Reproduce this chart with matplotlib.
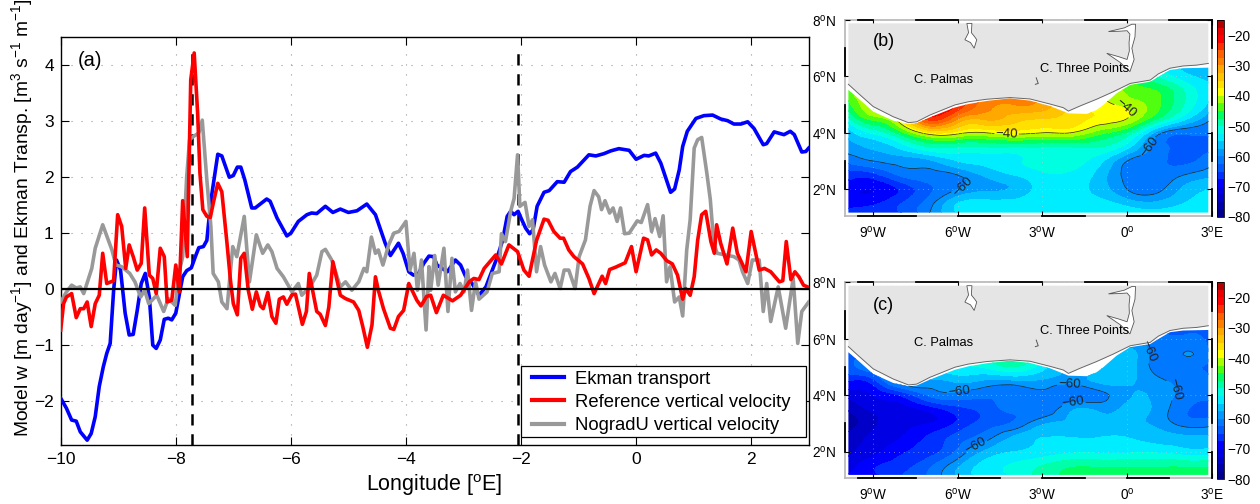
import numpy as np
import matplotlib
matplotlib.use("Agg")
import matplotlib.pyplot as plt
from matplotlib.path import Path
from matplotlib.patches import Polygon, PathPatch, Rectangle
from matplotlib.tri import Triangulation, UniformTriRefiner

plt.rcParams['font.family'] = ['Liberation Sans', 'DejaVu Sans']
plt.rcParams['mathtext.fontset'] = 'custom'
plt.rcParams['mathtext.rm'] = 'Liberation Sans'
plt.rcParams['mathtext.default'] = 'regular'

# ---------- data, panel (a) ----------
ekman_lon = [-10,-9.9,-9.81,-9.73,-9.66,-9.54,-9.47,-9.4,-9.33,-9.26,-9.2,-9.14,-9.08,-9.03,-8.96,-8.88,-8.81,-8.74,-8.67,-8.6,-8.53,-8.46,-8.4,-8.34,-8.27,-8.2,-8.13,-8.07,-8.0,-7.94,-7.88,-7.81,-7.73,-7.66,-7.6,-7.52,-7.46,-7.43,-7.38,-7.27,-7.2,-7.07,-7.0,-6.93,-6.87,-6.8,-6.68,-6.62,-6.42,-6.36,-6.24,-6.07,-6.0,-5.87,-5.72,-5.64,-5.55,-5.4,-5.27,-5.14,-5.0,-4.85,-4.68,-4.53,-4.36,-4.27,-4.13,-4.05,-3.95,-3.87,-3.78,-3.69,-3.6,-3.52,-3.46,-3.28,-3.14,-3.05,-2.96,-2.85,-2.73,-2.61,-2.5,-2.41,-2.32,-2.24,-2.18,-2.12,-2.05,-2.0,-1.92,-1.85,-1.79,-1.72,-1.6,-1.51,-1.37,-1.25,-1.14,-1.02,-0.82,-0.7,-0.56,-0.44,-0.3,-0.12,0.0,0.14,0.22,0.34,0.43,0.6,0.67,0.75,0.81,0.89,1.04,1.18,1.33,1.47,1.59,1.7,1.82,1.94,2.05,2.21,2.27,2.4,2.57,2.68,2.75,2.88,2.95,3.0]
ekman_val = [-1.95,-2.13,-2.34,-2.36,-2.55,-2.70,-2.58,-2.28,-1.74,-1.39,-1.15,-0.97,-0.02,0.52,0.34,-0.43,-0.82,-0.81,-0.38,0.1,0.28,-0.14,-1.0,-1.06,-0.91,-0.54,-0.52,-0.55,-0.43,-0.11,0.22,0.33,0.38,0.58,0.74,0.76,0.87,1.18,1.65,2.41,2.38,2.0,2.03,2.18,2.18,1.95,1.45,1.45,1.61,1.57,1.27,0.95,1.0,1.21,1.33,1.36,1.35,1.48,1.37,1.43,1.37,1.40,1.52,1.33,0.82,0.6,0.82,0.64,0.31,0.25,0.28,0.46,0.59,0.58,0.43,0.31,0.52,0.43,0.22,0.1,-0.11,0.04,0.34,0.58,0.87,1.3,1.39,1.33,1.39,1.27,1.09,0.99,1.06,1.48,1.73,1.76,1.92,1.91,2.1,2.18,2.4,2.38,2.42,2.47,2.51,2.48,2.32,2.39,2.38,2.43,2.25,1.73,1.79,2.13,2.55,2.82,3.05,3.1,3.11,3.04,3.01,2.95,2.95,2.99,2.87,2.58,2.6,2.81,2.76,2.82,2.76,2.45,2.46,2.52]

ref_lon = [-10,-9.95,-9.9,-9.81,-9.73,-9.66,-9.6,-9.54,-9.47,-9.4,-9.33,-9.27,-9.2,-9.08,-9.01,-8.94,-8.87,-8.81,-8.74,-8.67,-8.6,-8.54,-8.46,-8.4,-8.34,-8.27,-8.2,-8.15,-8.07,-8.0,-7.94,-7.88,-7.8,-7.74,-7.68,-7.62,-7.58,-7.53,-7.46,-7.4,-7.35,-7.27,-7.2,-7.11,-7.05,-7.0,-6.93,-6.87,-6.81,-6.74,-6.67,-6.6,-6.53,-6.48,-6.4,-6.33,-6.26,-6.2,-6.13,-6.07,-5.98,-5.92,-5.8,-5.73,-5.68,-5.55,-5.49,-5.4,-5.34,-5.27,-5.14,-5.05,-4.91,-4.82,-4.75,-4.67,-4.59,-4.53,-4.48,-4.39,-4.27,-4.21,-4.13,-4.04,-3.95,-3.81,-3.74,-3.64,-3.57,-3.47,-3.35,-3.19,-3.05,-2.9,-2.82,-2.73,-2.64,-2.54,-2.44,-2.34,-2.21,-2.06,-1.95,-1.86,-1.73,-1.6,-1.53,-1.43,-1.32,-1.26,-1.17,-1.08,-0.93,-0.82,-0.73,-0.59,-0.53,-0.46,-0.36,-0.19,-0.08,0.0,0.13,0.2,0.27,0.35,0.43,0.53,0.63,0.72,0.81,0.86,0.94,1.01,1.07,1.14,1.21,1.3,1.36,1.4,1.47,1.58,1.68,1.76,1.91,2.0,2.14,2.23,2.34,2.49,2.55,2.61,2.69,2.76,2.83,2.91,3.0]
ref_val = [-0.73,-0.26,-0.14,-0.08,-0.51,-0.35,-0.35,-0.23,-0.67,-0.26,-0.11,0.64,0.1,0.15,1.33,1.12,0.37,0.79,0.58,0.34,0.46,1.45,0.25,0.19,-0.08,0.73,0.58,-0.23,-0.2,0.43,-0.05,1.58,0.58,3.74,4.22,3.14,2.07,1.42,1.3,1.28,1.53,1.89,1.74,0.82,0.16,-0.26,-0.46,0.55,0.64,-0.02,-0.36,-0.05,-0.3,-0.35,-0.06,-0.49,-0.61,-0.18,-0.14,-0.27,-0.1,-0.09,-0.63,-0.4,0.28,-0.4,-0.45,-0.65,-0.32,0.49,-0.11,-0.17,-0.23,-0.38,-0.67,-1.04,-0.64,0.22,-0.02,-0.35,-0.7,-0.72,-0.49,-0.38,0.1,-0.2,-0.3,-0.13,-0.11,-0.42,-0.11,-0.21,-0.11,0.13,0.19,0.17,0.37,0.49,0.61,0.45,0.79,0.67,0.34,0.23,0.87,1.25,1.23,1.03,0.91,0.91,0.7,0.58,0.45,0.19,-0.08,0.23,0.1,0.35,0.39,0.47,0.76,0.31,0.91,0.88,0.61,0.7,0.64,0.51,0.45,0.25,-0.18,0.01,-0.11,0.22,0.87,1.33,1.39,0.85,0.64,1.15,0.82,0.45,1.09,0.64,0.31,1.03,0.34,0.37,0.31,0.13,0.15,0.85,0.17,0.31,0.22,0.07,0.03]

nograd_lon = [-10,-9.9,-9.81,-9.73,-9.66,-9.6,-9.46,-9.4,-9.27,-9.11,-9.04,-8.94,-8.8,-8.71,-8.61,-8.54,-8.47,-8.33,-8.21,-8.13,-8.01,-7.94,-7.88,-7.81,-7.76,-7.69,-7.6,-7.54,-7.46,-7.39,-7.35,-7.26,-7.2,-7.11,-7.01,-6.94,-6.81,-6.72,-6.6,-6.49,-6.4,-6.33,-6.24,-6.13,-5.98,-5.87,-5.81,-5.67,-5.55,-5.46,-5.4,-5.29,-5.14,-5.05,-4.94,-4.82,-4.73,-4.68,-4.6,-4.53,-4.48,-4.4,-4.3,-4.21,-4.12,-4.0,-3.93,-3.86,-3.8,-3.73,-3.65,-3.6,-3.57,-3.5,-3.44,-3.34,-3.27,-3.2,-3.14,-3.06,-2.99,-2.93,-2.86,-2.79,-2.73,-2.59,-2.5,-2.38,-2.34,-2.27,-2.18,-2.12,-2.06,-2.02,-1.93,-1.86,-1.8,-1.73,-1.66,-1.59,-1.48,-1.41,-1.32,-1.25,-1.17,-1.06,-0.99,-0.88,-0.8,-0.73,-0.65,-0.6,-0.54,-0.46,-0.4,-0.33,-0.27,-0.2,-0.12,0.02,0.09,0.2,0.27,0.33,0.41,0.47,0.53,0.59,0.67,0.75,0.81,0.88,0.94,1.01,1.07,1.14,1.23,1.29,1.35,1.41,1.56,1.7,1.79,1.85,1.94,2.02,2.14,2.21,2.27,2.34,2.47,2.6,2.73,2.81,2.88,3.0]
nograd_val = [-0.23,-0.05,0.07,0.02,0.04,-0.08,0.37,0.73,1.15,0.7,0.43,0.4,0.28,0.13,-0.14,-0.02,-0.26,-0.11,-0.4,-0.17,-0.29,0.31,0.58,2.01,2.67,2.73,2.79,3.02,1.95,1.12,0.28,0.13,-0.23,-0.35,0.76,0.58,1.3,0.13,0.97,0.64,0.79,0.67,0.37,0.22,-0.05,0.1,-0.11,0.04,0.25,0.67,0.71,0.52,0.04,0.13,-0.02,0.13,0.37,0.31,0.93,0.64,0.7,0.43,0.79,1.0,1.03,1.21,0.34,0.64,-0.02,0.52,-0.73,0.4,-0.02,0.6,0.07,0.73,-0.4,0.55,-0.05,0.1,-0.05,0.34,-0.38,0.13,-0.18,-0.05,0.28,0.31,0.99,0.85,1.39,1.62,2.4,1.48,1.55,1.12,1.24,0.31,0.76,0.43,0.13,0.28,0.01,0.34,0.34,0.01,0.58,0.88,1.48,1.76,1.65,1.42,1.58,1.36,1.45,1.21,1.45,0.99,1.0,1.22,1.19,1.51,1.03,1.26,0.94,1.31,0.13,0.4,-0.23,-0.14,-0.48,0.7,1.24,2.52,2.67,2.71,2.07,1.6,0.82,0.64,0.61,0.58,0.52,0.31,0.1,0.52,0.52,-0.4,0.1,-0.58,0.04,-0.7,0.19,-0.97,-0.4,-0.23]

dash_lon = [-7.72, -2.05]
x_ticks = [-10, -8, -6, -4, -2, 0, 2]
y_ticks = [-2, -1, 0, 1, 2, 3, 4]

# ---------- data, maps ----------
grid_lon = [-10,-9,-8,-7,-6,-5,-4,-3,-2,-1,0,1,2,3]
grid_lat = [1.17,1.5,2,2.5,3,3.5,4,4.5,5,5.5,6,6.5]
sst_b = [
 [-66,-66,-65,-60,-55,-53,-53,-53,-53,-53,-53,-54,-53,-53],
 [-69,-68,-65,-61,-55,-54,-54,-54,-54,-54,-56,-57,-55,-54],
 [-69,-70,-67,-63,-60,-58,-57,-54,-54,-56,-60,-61,-57,-55],
 [-66,-66,-62,-61,-60,-57,-55,-53,-53,-56,-61,-62,-60,-58],
 [-62,-60,-59,-58,-55,-54,-53,-52,-52,-54,-60,-62,-63,-61],
 [-59,-57,-54,-50,-50,-50,-50,-50,-50,-50,-54,-61,-63,-63],
 [-57,-52,-46,-38,-39,-40,-39,-40,-40,-44,-48,-58,-62,-62],
 [-52,-44,-37,-24,-30,-32,-34,-35,-36,-38,-40,-47,-54,-60],
 [-47,-40,-35,-22,-23,-29,-30,-31,-36,-39,-41,-44,-50,-56],
 [-44,-40,-35,-22,-23,-27,-29,-30,-36,-39,-43,-45,-50,-55],
 [-44,-40,-35,-22,-23,-27,-29,-30,-36,-39,-45,-50,-54,-56],
 [-44,-40,-35,-22,-23,-27,-29,-30,-36,-39,-45,-52,-56,-58],
]
sst_c = [
 [-70,-68,-65,-62,-57,-54,-52,-49,-47,-47,-47,-47,-47,-47],
 [-72,-68,-66,-63,-58,-54,-52,-50,-48,-48,-48,-48,-48,-48],
 [-73,-71,-68,-66,-62,-57,-55,-54,-53,-53,-53,-53,-54,-54],
 [-74,-72,-70,-67,-64,-61,-57,-55,-55,-55,-55,-56,-57,-57],
 [-77,-73,-71,-70,-67,-64,-62,-58,-57,-57,-57,-58,-61,-61],
 [-75,-72,-71,-69,-66,-64,-62,-62,-58,-58,-57,-58,-62,-63],
 [-72,-70,-67,-62,-61,-62,-62,-61,-62,-61,-58,-58,-61,-62],
 [-67,-66,-58,-58,-57,-58,-58,-58,-59,-57,-57,-59,-61,-62],
 [-64,-60,-55,-54,-53,-52,-50,-54,-58,-58,-56,-61,-62,-63],
 [-64,-60,-55,-54,-53,-50,-48,-52,-58,-58,-56,-61,-60,-63],
 [-64,-60,-55,-54,-53,-50,-48,-52,-58,-58,-60,-62,-62,-63],
 [-64,-60,-55,-54,-53,-50,-48,-52,-58,-58,-60,-62,-62,-63],
]
coast_lon = [-9.88,-9.53,-9.0,-8.29,-7.75,-7.46,-6.99,-6.1,-5.63,-4.98,-4.15,-3.44,-2.73,-2.26,-2.08,-1.67,-1.08,-0.48,0.11,0.82,1.11,1.52,1.99,2.47,2.88]
coast_lat = [5.72,5.40,4.93,4.57,4.36,4.39,4.63,4.99,5.10,5.19,5.25,5.20,5.02,4.89,4.77,4.95,5.19,5.46,5.75,5.87,6.09,6.29,6.37,6.40,6.46]
edge_lon = [-9.88,-9.53,-9,-8.29,-7.75,-7.46,-6.99,-6.1,-5.63,-4.98,-4.15,-3.44,-2.73,-2.08,-1.43,-1.08,-0.84,-0.37,0.11,0.82,1.11,1.52,1.99,2.88]
edge_lat = [5.52,5.22,4.75,4.43,4.31,4.34,4.55,4.9,5.02,5.13,5.22,5.14,4.95,4.69,4.67,4.81,4.99,5.4,5.7,5.81,5.99,6.23,6.29,6.31]
volta_lon = [-0.66,-0.1,0.17,0.3,0.28,0.17,0.25,0.1,-0.25,-0.72,-0.3,0.0,0.08,0.07,0.1,0.0,-0.3]
volta_lat = [7.59,7.72,7.85,7.85,7.4,7.0,6.6,6.17,6.5,6.82,6.7,6.6,6.9,7.2,7.5,7.62,7.6]
kossou_lon = [-5.68,-5.5,-5.52,-5.4,-5.33,-5.42,-5.55,-5.75,-5.62]
kossou_lat = [7.88,7.88,7.55,7.4,7.3,7.0,7.2,7.3,7.55]
map_lon_ticks = [-9,-6,-3,0,3]
map_lon_labels = ['9$^{o}$W','6$^{o}$W','3$^{o}$W','0$^{o}$','3$^{o}$E']
map_lat_ticks = [2,4,6,8]
map_lat_labels = ['2$^{o}$N','4$^{o}$N','6$^{o}$N','8$^{o}$N']
cbar_ticks = [-80,-70,-60,-50,-40,-30,-20]
levels = np.arange(-80, -14, 2.5)
band_colors = ['#00008c','#0000a8','#0000c8','#0000e4','#0000ff','#0030ff','#0058ff','#0078ff','#0098ff','#00c0ff',
               '#00ecff','#00ffe0','#00ffa8','#00ff60','#50ff10','#a8ff00','#ffff00','#ffe000','#ffc400','#ffa800',
               '#ff8000','#ff6000','#ff3000','#ff0000','#e80000','#b00000']
labels_b = [(-4.27,4.0),(-0.07,4.8),(-5.8,2.03),(1.0,3.4)]
labels_c = [(-5.95,4.05),(-2.05,4.2),(-1.9,3.65),(-5.4,2.3),(1.6,4.2),(1.25,5.7)]

W, H = 1260, 504
fig = plt.figure(figsize=(W/100, H/100), dpi=100, facecolor='white')

def rect(l, t, r, b):
    return [l/W, 1-b/H, (r-l)/W, (b-t)/H]

# ---------- panel (a) ----------
ax = fig.add_axes(rect(60.7, 37.3, 808.7, 445))
ax.set_xlim(-10, 3)
ax.set_ylim(-2.786, 4.5)
ax.grid(True, linestyle=(0, (1, 8)), color='#999999', linewidth=0.8)
ax.set_axisbelow(True)
for xd in dash_lon:
    ax.plot([xd, xd], [-2.786, 4.36], color='black', lw=1.8, ls=(0, (4.5, 3.5)), zorder=2)
lb, = ax.plot(ekman_lon, ekman_val, color='#0000ff', lw=2.6, zorder=3, solid_joinstyle='round')
lg, = ax.plot(nograd_lon, nograd_val, color='#999999', lw=2.6, zorder=3.1, solid_joinstyle='round')
lr, = ax.plot(ref_lon, ref_val, color='#ff0000', lw=2.6, zorder=3.2, solid_joinstyle='round')
ax.axhline(0, color='black', lw=1.6, zorder=4)
ax.set_xticks(x_ticks)
ax.set_xticklabels(['\u2212%d' % abs(v) if v < 0 else str(v) for v in x_ticks])
ax.set_yticks(y_ticks)
ax.set_yticklabels(['\u2212%d' % abs(v) if v < 0 else str(v) for v in y_ticks])
ax.tick_params(direction='in', length=6, width=0.8, top=True, right=True, labelsize=12.5, pad=5, colors='black')
for s in ax.spines.values():
    s.set_linewidth(1.0)
ax.set_xlabel('Longitude [$^{o}$E]', fontsize=15.5, labelpad=4)
fig.text(22/W, 1-218/H, 'Model w [m day$^{-1}$] and Ekman Transp. [m$^{3}$ s$^{-1}$ m$^{-1}$]',
         rotation=90, fontsize=13.9, ha='center', va='center')
ax.text(78/W, 1-60/H, '(a)', transform=fig.transFigure, fontsize=14.5, va='center', ha='left')
ax.add_patch(Rectangle((521/W, 1-437/H), 285/W, 71/H, transform=fig.transFigure, facecolor='white',
                       edgecolor='black', linewidth=0.9, zorder=5, clip_on=False))
leg = ax.legend([lb, lr, lg], ['Ekman transport', 'Reference vertical velocity', 'NogradU vertical velocity'],
                loc='lower left', bbox_to_anchor=(532/W, 1-434/H), bbox_transform=fig.transFigure,
                frameon=False, fontsize=13.3,
                borderaxespad=0, handlelength=1.73, handletextpad=0.6, labelspacing=0.33, borderpad=0)
leg.set_zorder(6)
for h in leg.get_lines():
    h.set_linewidth(3.0)

# ---------- maps ----------
def draw_map(top, table, tag, palmas_y, three_y, tag_y, manual):
    bottom = top + 196
    a = fig.add_axes(rect(845, top, 1211.7, bottom))
    a.set_xlim(-10, 3)
    a.set_ylim(1.05, 8)
    X, Y = np.meshgrid(grid_lon, grid_lat)
    tri = Triangulation(X.ravel(), Y.ravel())
    tr, zr = UniformTriRefiner(tri).refine_field(np.array(table, float).ravel(), subdiv=3)
    sea = Path(list(zip(edge_lon, edge_lat)) + [(2.88, 1.17), (-9.88, 1.17), (-9.88, edge_lat[0])])
    sea_patch = PathPatch(sea, transform=a.transData, facecolor='none', edgecolor='none')
    a.add_patch(sea_patch)
    cs = a.tricontourf(tr, zr, levels=levels, colors=band_colors)
    cs.set_clip_path(sea_patch)
    cl = a.tricontour(tr, zr, levels=[-60, -40], colors='#222222', linewidths=0.5, linestyles='solid')
    cl.set_clip_path(sea_patch)
    a.clabel(cl, fmt={-40: '\u221240', -60: '\u221260'}, fontsize=9.5, manual=manual, inline=True, inline_spacing=1)
    land = list(zip(coast_lon, coast_lat)) + [(2.88, 7.88), (-9.88, 7.88)]
    a.add_patch(Polygon(land, closed=True, facecolor='#e5e5e5', edgecolor='none', zorder=3))
    a.plot(coast_lon, coast_lat, color='#666666', lw=0.7, zorder=4)
    a.add_patch(Polygon(list(zip(volta_lon, volta_lat)), closed=True, facecolor='white', edgecolor='#555555', lw=0.6, zorder=4))
    a.add_patch(Polygon(list(zip(kossou_lon, kossou_lat)), closed=True, facecolor='white', edgecolor='#555555', lw=0.6, zorder=4))
    a.plot([-3.22, -3.15, -3.25], [5.95, 5.75, 5.72], color='#555555', lw=0.7, zorder=4)
    a.grid(True, linestyle=(0, (1, 6)), color='#cccccc', linewidth=0.5, zorder=3.5)
    a.set_axisbelow(False)
    for s in a.spines.values():
        s.set_color('#b5b5b5')
        s.set_linewidth(1.2)
    a.set_xticks(map_lon_ticks)
    a.set_xticklabels(map_lon_labels)
    a.set_yticks(map_lat_ticks)
    a.set_yticklabels(map_lat_labels)
    a.tick_params(axis='both', direction='in', length=3.5, width=0.8, top=True, right=True, labelsize=9.8, color='black')
    a.tick_params(axis='x', pad=6)
    a.tick_params(axis='y', pad=6)
    k = dict(color='black', lw=1.3, clip_on=False, zorder=7)
    for s0, s1 in [(-9.53, -9), (-7.5, -6), (-4.5, -3), (-1.5, 0), (1.5, 3)]:
        a.plot([s0, s1], [8, 8], **k)
    for s0, s1 in [(-9.53, -7.5), (-6, -4.5), (-3, -1.5), (0, 1.5)]:
        a.plot([s0, s1], [1.05, 1.05], **k)
    for s0, s1 in [(6, 7), (4, 5), (2, 3)]:
        a.plot([-10, -10], [s0, s1], **k)
    for s0, s1 in [(7, 8), (5, 6), (3, 4), (1.05, 2)]:
        a.plot([3, 3], [s0, s1], **k)
    a.text(873/W, 1-tag_y/H, tag, transform=fig.transFigure, fontsize=13, va='center', zorder=8)
    a.text(943.5/W, 1-palmas_y/H, 'C. Palmas', transform=fig.transFigure, fontsize=9.3, ha='center', va='center', zorder=8)
    a.text(1085/W, 1-three_y/H, 'C. Three Points', transform=fig.transFigure, fontsize=9.3, ha='center', va='center', zorder=8)
    cax = fig.add_axes(rect(1217, top, 1223.7, top + 197))
    cb = fig.colorbar(cs, cax=cax, ticks=cbar_ticks)
    cax.set_ylim(-80, -15)
    cb.set_ticklabels(['\u2212%d' % abs(v) for v in cbar_ticks])
    cax.tick_params(length=0, labelsize=9.8, pad=2.5)
    cb.outline.set_linewidth(0.6)
    return a

draw_map(20, sst_b, '(b)', 80, 69, 42, labels_b)
draw_map(282.3, sst_c, '(c)', 343, 331, 305, labels_c)

fig.savefig('out.png', dpi=100)
